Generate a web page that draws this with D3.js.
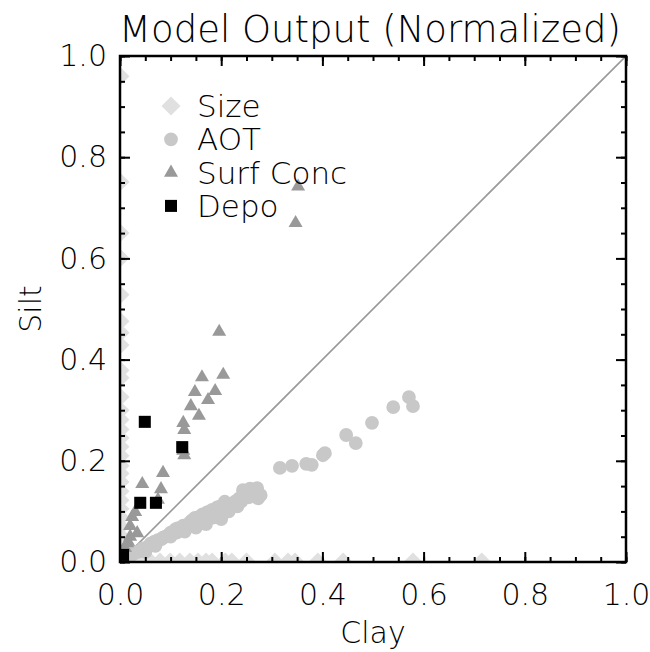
<!DOCTYPE html>
<html>
<head>
<meta charset="utf-8">
<script src="https://cdn.jsdelivr.net/npm/d3@7"></script>
<style>
body { margin: 0; background: #fff; }
text { font-family: "DejaVu Sans", sans-serif; fill: #000; }
</style>
</head>
<body>
<script>
// Size: points sit on the axes (clay = 0 or silt = 0)
var sizeClay = [0,0,0,0,0,0,0,0,0,0,0,0,0,0,0,0,0,0,0,0,0,0,0,0,0,0,0,0,0,
  0.02,0.04,0.06,0.079,0.099,0.118,0.138,0.154,0.17,0.182,0.208,0.221,0.25,0.306,0.332,0.346,0.391,0.441,0.579,0.715];
var sizeSilt = [0.96,0.751,0.65,0.601,0.528,0.476,0.453,0.429,0.379,0.364,0.326,0.30,0.281,0.262,0.245,0.228,0.21,0.19,0.175,0.158,0.14,0.122,0.105,0.088,0.07,0.052,0.035,0.018,0.0,
  0,0,0,0,0,0,0,0,0,0,0,0,0,0,0,0,0,0,0,0];

var aotClay = [0.008,0.015,0.024,0.03,0.036,0.045,0.055,0.06,0.068,0.075,0.082,0.09,0.095,0.1,0.105,0.11,0.115,0.12,0.125,0.132,
  0.138,0.142,0.148,0.152,0.158,0.163,0.168,0.172,0.178,0.182,0.188,0.192,0.198,0.203,0.207,0.212,0.218,0.227,0.235,0.243,
  0.25,0.257,0.262,0.271,0.273,0.316,0.34,0.368,0.379,0.401,0.405,0.447,0.466,0.498,0.54,0.571,0.579,
  0.05,0.07,0.085,0.1,0.112,0.128,0.14,0.155,0.165,0.175,0.185,0.195,0.205,0.215,0.222,0.232,0.24,0.255,0.265,0.278,0.2,0.17,0.15];
var aotSilt = [0.005,0.01,0.014,0.02,0.02,0.027,0.03,0.036,0.04,0.043,0.045,0.05,0.053,0.058,0.06,0.065,0.067,0.064,0.072,0.073,
  0.078,0.082,0.087,0.08,0.09,0.094,0.088,0.098,0.1,0.103,0.097,0.108,0.11,0.105,0.119,0.112,0.115,0.119,0.125,0.142,
  0.13,0.145,0.136,0.146,0.126,0.186,0.19,0.194,0.192,0.211,0.215,0.251,0.235,0.275,0.306,0.326,0.308,
  0.02,0.032,0.048,0.05,0.058,0.06,0.072,0.075,0.083,0.092,0.088,0.095,0.098,0.1,0.112,0.11,0.12,0.128,0.14,0.132,0.085,0.075,0.068];

var surfClay = [0.352,0.347,0.196,0.162,0.204,0.148,0.188,0.174,0.14,0.156,0.125,0.127,0.127,0.125,0.085,0.044,0.081,0.075,
  0.03,0.02,0.034,0.016,0.01,0.024,0.014,0.005,0.02];
var surfSilt = [0.742,0.67,0.455,0.365,0.37,0.336,0.338,0.32,0.308,0.289,0.275,0.261,0.211,0.22,0.176,0.154,0.144,0.123,
  0.099,0.071,0.057,0.04,0.028,0.089,0.037,0.01,0.05];

var depoClay = [0.049,0.04,0.071,0.123,0.006];
var depoSilt = [0.277,0.117,0.117,0.227,0.014];

var legendNames = ["Size", "AOT", "Surf Conc", "Depo"];
var majorTicks = [0, 0.2, 0.4, 0.6, 0.8, 1.0];
var minorTicks = d3.range(0, 1.0001, 0.05);

var W = 650, H = 652;
var pL = 120, pR = 626, pT = 56, pB = 562;
var font = '"DejaVu Sans", sans-serif';

var svg = d3.select('body').append('svg').attr('width', W).attr('height', H);

var x = d3.scaleLinear().domain([0, 1]).range([pL, pR]);
var y = d3.scaleLinear().domain([0, 1]).range([pB, pT]);

svg.append('clipPath').attr('id', 'clip').append('rect')
  .attr('x', pL).attr('y', pT).attr('width', pR - pL).attr('height', pB - pT);

var plot = svg.append('g').attr('clip-path', 'url(#clip)');

var diamond = d3.symbol().type(d3.symbolSquare).size(180);
var circle = d3.symbol().type(d3.symbolCircle).size(150);
var tri = d3.symbol().type(d3.symbolTriangle).size(85);
var square = d3.symbol().type(d3.symbolSquare).size(145);

plot.selectAll('.size').data(sizeClay).enter().append('path')
  .attr('d', diamond)
  .attr('transform', function (d, i) { return 'translate(' + x(d) + ',' + y(sizeSilt[i]) + ') rotate(45)'; })
  .attr('fill', '#e0e0e0');

plot.append('line')
  .attr('x1', x(0)).attr('y1', y(0)).attr('x2', x(1)).attr('y2', y(1))
  .attr('stroke', '#999').attr('stroke-width', 1.6);

plot.selectAll('.aot').data(aotClay).enter().append('path')
  .attr('d', circle)
  .attr('transform', function (d, i) { return 'translate(' + x(d) + ',' + y(aotSilt[i]) + ')'; })
  .attr('fill', '#c8c8c8');

plot.selectAll('.surf').data(surfClay).enter().append('path')
  .attr('d', tri)
  .attr('transform', function (d, i) { return 'translate(' + x(d) + ',' + y(surfSilt[i]) + ')'; })
  .attr('fill', '#999');

plot.selectAll('.depo').data(depoClay).enter().append('path')
  .attr('d', square)
  .attr('transform', function (d, i) { return 'translate(' + x(d) + ',' + y(depoSilt[i]) + ')'; })
  .attr('fill', '#000');

// axes: ticks inward on all four sides
function axisGroup(axis, tx, ty) {
  var g = svg.append('g').attr('transform', 'translate(' + tx + ',' + ty + ')').call(axis);
  g.select('.domain').remove();
  g.selectAll('line').attr('stroke', '#000').attr('stroke-width', 2);
  g.selectAll('text').style('font-size', '30px').style('font-family', font).style('font-weight', 300).attr('fill', '#000');
  return g;
}
axisGroup(d3.axisBottom(x).tickValues(minorTicks).tickSize(-5).tickFormat(''), 0, pB);
axisGroup(d3.axisBottom(x).tickValues(majorTicks).tickSize(-10).tickPadding(22).tickFormat(d3.format('.1f')), 0, pB);
axisGroup(d3.axisTop(x).tickValues(minorTicks).tickSize(-5).tickFormat(''), 0, pT);
axisGroup(d3.axisTop(x).tickValues(majorTicks).tickSize(-10).tickFormat(''), 0, pT);
axisGroup(d3.axisLeft(y).tickValues(minorTicks).tickSize(-5).tickFormat(''), pL, 0);
axisGroup(d3.axisLeft(y).tickValues(majorTicks).tickSize(-10).tickPadding(13).tickFormat(d3.format('.1f')), pL, 0);
axisGroup(d3.axisRight(y).tickValues(minorTicks).tickSize(-5).tickFormat(''), pR, 0);
axisGroup(d3.axisRight(y).tickValues(majorTicks).tickSize(-10).tickFormat(''), pR, 0);

svg.append('rect')
  .attr('x', pL).attr('y', pT).attr('width', pR - pL).attr('height', pB - pT)
  .attr('fill', 'none').attr('stroke', '#000').attr('stroke-width', 2.5);

// titles
svg.append('text').attr('x', 370).attr('y', 42).attr('text-anchor', 'middle')
  .style('font-size', '37px').style('font-weight', 300).text('Model Output (Normalized)');
svg.append('text').attr('x', (pL + pR) / 2).attr('y', 643).attr('text-anchor', 'middle')
  .style('font-size', '30px').style('font-weight', 300).text('Clay');
svg.append('text').attr('transform', 'translate(41,' + (pT + pB) / 2 + ') rotate(-90)')
  .attr('text-anchor', 'middle').style('font-size', '30px').style('font-weight', 300).text('Silt');

// legend
var legendSymbols = [
  { sym: diamond, fill: '#e0e0e0', rot: 45 },
  { sym: circle, fill: '#c8c8c8', rot: 0 },
  { sym: tri, fill: '#999', rot: 0 },
  { sym: square, fill: '#000', rot: 0 }
];
var legend = svg.append('g');
legendNames.forEach(function (name, i) {
  var cy = 106 + i * 33.3;
  legend.append('path').attr('d', legendSymbols[i].sym)
    .attr('transform', 'translate(171,' + cy + ') rotate(' + legendSymbols[i].rot + ')')
    .attr('fill', legendSymbols[i].fill);
  legend.append('text').attr('x', 197).attr('y', cy + 11).style('font-size', '31px')
    .style('font-weight', 300).text(name);
});
</script>
</body>
</html>
